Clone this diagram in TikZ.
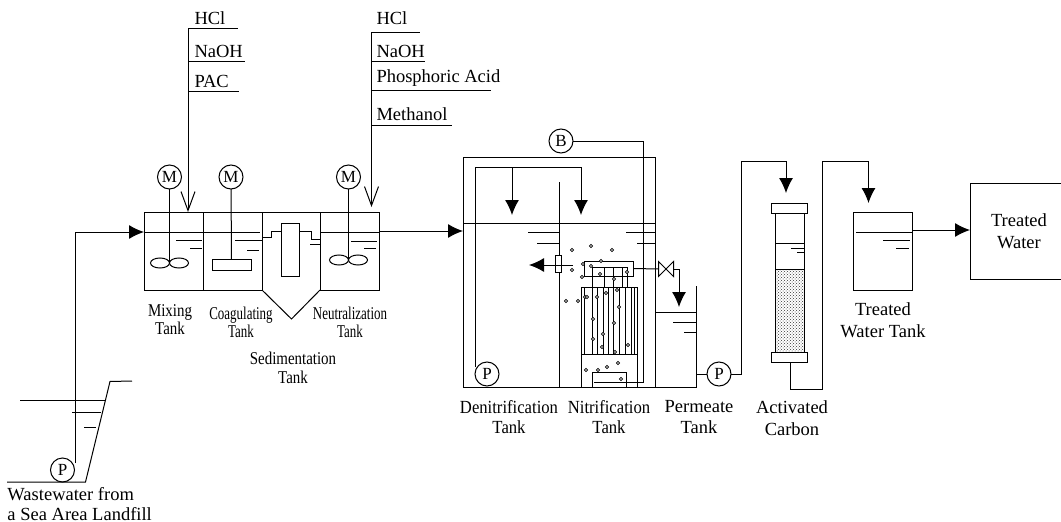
\documentclass[tikz,border=0pt]{standalone}
\usepackage{fontspec}
\setmainfont{Liberation Serif}
\usetikzlibrary{arrows.meta, calc, positioning, shapes.misc, patterns}

\begin{document}
\begin{tikzpicture}[
    x=1pt, y=-1pt,
    font=\fontsize{18.5}{18.5}\selectfont,
    every path/.style={line width=1pt},
    tank/.style={draw, inner sep=0pt, outer sep=0pt, minimum width=59pt, minimum height=78pt},
    capbox/.style={draw, inner sep=0pt, outer sep=0pt, minimum width=36pt, minimum height=10pt},
    unit/.style={draw, circle, inner sep=0pt, outer sep=0pt, minimum size=24pt, font=\fontsize{17}{17}\selectfont},
    tname/.style={inner sep=0pt, align=center},
    slim/.style={tname, font=\fontsize{18}{18}\selectfont\addfontfeature{FakeStretch=0.83}},
    narrow/.style={tname, font=\fontsize{18}{18}\selectfont\addfontfeature{FakeStretch=0.72}},
    lab/.style={tname, font=\fontsize{18.5}{18.5}\selectfont\addfontfeature{FakeStretch=0.9}},
    chem/.style={inner sep=0pt, anchor=west},
    arrow/.style={-{Latex[length=15pt, width=14pt]}},
    feed/.style={-{Straight Barb[length=19pt, width=14pt]}}
]
\useasboundingbox (0,0) rectangle (1061,522);

% Pit and intake
\draw (7,482) -- (85.5,482) -- (110,381.5) -- (132,381);
\draw (20,400) -- (105,400);
\draw (72,412.7) -- (101,412.7);
\draw (84,427) -- (96,427);
\node[unit] (Pin) at (62.5,470) {P};
\node[tname, anchor=north west, align=left] (Lwaste) at (7,487) {Wastewater from\\[1pt]a Sea Area Landfill};

% Pretreatment row
\node[tank] (Tmix) at (173.5,251) {};
\node[tank] (Tcoag) at (232.5,251) {};
\node[tank] (Tneut) at (349.5,251) {};
\draw (Tcoag.north east) -- (Tneut.north west);
\draw (Tcoag.south east) -- (291.5,319) -- (Tneut.south west);
\draw (Tmix.west |- 0,232) -- (260,232);
\draw (320,232) -- (379,232);
\draw (262,237.5) -- (271,237.5) -- (271,231.5) -- (281,231.5);
\draw (299,231.5) -- (311,231.5) -- (311,239) -- (320,239);
\draw (310,244.5) -- (320,244.5);
\node[draw, inner sep=0pt, minimum width=18pt, minimum height=53pt] (Baffle) at (290,249.5) {};

% Motors and stirrers
\node[unit] (Mmix) at (169.5,177) {M};
\node[unit] (Mcoag) at (231,177) {M};
\node[unit] (Mneut) at (348.5,177) {M};
\node[draw, inner sep=0pt, minimum width=39pt, minimum height=11pt] (Paddle) at (231.5,265) {};
\coordinate (Hmix) at (169.5,263);
\coordinate (Hneut) at (348.5,260);
\draw (Mmix) -- (Hmix);
\draw (Mcoag) -- (Paddle);
\draw (Mneut) -- (Hneut);
\foreach \h in {Hmix,Hneut}{
    \draw ($(\h)+(-9.5,0)$) ellipse[x radius=9.5pt, y radius=5pt];
    \draw ($(\h)+(9.5,0)$) ellipse[x radius=9.5pt, y radius=5pt];
}

% Level marks
\draw (176,240.5) -- (202,240.5);
\draw (190,248) -- (202,248);
\draw (235,240.5) -- (262,240.5);
\draw (247,250) -- (259,250);
\draw (351,241) -- (377,241);
\draw (364,248) -- (376,248);

% Feed line and chemicals
\coordinate (Rise) at (75,463);
\draw[arrow] (Rise) -- (75,232) -- (Tmix.west |- 0,232);
\coordinate (Cone) at (188,28);
\coordinate (Ctwo) at (371.5,32);
\draw[feed] (Cone) -- (188,212);
\draw[feed] (Ctwo) -- (371.5,207);
\draw (Cone) -- (238,28);
\draw (188,61) -- (245,61);
\draw (188,91) -- (239,91);
\draw (Ctwo) -- (420,32);
\draw (371.5,61) -- (425,61);
\draw (371.5,90) -- (491,90);
\draw (371.5,125) -- (452,125);
\node[chem] (Aone) at (194,18) {HCl};
\node[chem] (Atwo) at (194,51) {NaOH};
\node[chem] (Athree) at (194,81) {PAC};
\node[chem] (Bone) at (376,18) {HCl};
\node[chem] (Btwo) at (376,51) {NaOH};
\node[chem] (Bthree) at (376,78) {Phosphoric Acid};
\node[chem] (Bfour) at (376,114) {Methanol};

% Bioreactor
\node[draw, inner sep=0pt, outer sep=0pt, minimum width=192pt, minimum height=230pt] (Treact) at (559,272) {};
\draw[arrow] (379,231) -- (Treact.west |- 0,231);
\draw (Treact.west |- 0,223) -- (Treact.east |- 0,223);
\draw (559,182) -- (559,387);
\node[unit] (Pden) at (487,374) {P};
\coordinate (Drop) at (475,367);
\draw (Drop) -- (475,167) -- (581,167);
\draw[arrow] (512,167) -- (512,215);
\draw[arrow] (581,167) -- (581,215);
\draw (528,232) -- (559,232);
\draw (537,243) -- (559,243);
\draw (626,232) -- (655,232);
\draw (637,243) -- (655,243);

% Membrane module
\node[draw, inner sep=0pt, minimum width=49pt, minimum height=15pt] (Header) at (608.5,268.5) {};
\draw (592,267) -- (628,267);
\foreach \x in {592.7,604,613,622,627}{
    \draw (\x,267) -- (\x,287);
}
\draw (581,387) -- (581,287) -- (637,287) -- (637,387);
\draw (581,354) -- (637,354);
\foreach \x in {584,592,597,603,608,613,619,625,631,634}{
    \draw[line width=0.8pt] (\x,287) -- (\x,354);
}
\node[draw, inner sep=0pt, minimum width=34pt, minimum height=15pt] (Diffuser) at (609,379.5) {};
\node[unit] (Blower) at (561,141) {B};
\draw (Blower) -- (643,141) -- (643,382) -- (594,382);

% Bubbles
\foreach \x/\y in {572/250, 591/246, 612/250, 601/261, 583/264, 591/266, 572/270, 582/277, 600/274, 614/279, 627/272,
    617/290, 606/293, 597/297, 585/297, 587/297, 566/301, 578/301, 619/307, 593/319, 614/323, 603/334, 593/339, 602/347, 628/345, 615/352,
    586/370, 598/370, 607/367, 618/363, 621/379}{
    \draw[line width=0.7pt, fill=white] (\x,\y) circle[radius=1.7pt];
}

% Recycle outlet
\node[draw, fill=white, inner sep=0pt, minimum width=6.5pt, minimum height=17pt] (Rec) at (558.5,263.5) {};
\coordinate (Rin) at (573,265);
\draw[arrow] (Rin) -- (529,265);

% Permeate
\node[inner sep=0pt, minimum width=14pt, minimum height=14pt] (Valve) at (666,269) {};
\draw (Valve.north west) -- (Valve.south east) -- (Valve.north east) -- (Valve.south west) -- cycle;
\draw (Header.east) -- (Valve.west);
\draw[arrow] (Valve.east) -- (679,269) -- (679,307);
\draw (696,286) -- (696,387) -- (655,387);
\draw (655,312) -- (696,312);
\draw (673,322) -- (696,322);
\draw (684,332) -- (696,332);
\node[unit] (Pper) at (719,374) {P};
\draw (696,374) -- (Pper);

% Carbon column
\node[capbox] (Ctop) at (789,208) {};
\node[capbox] (Cbot) at (789,357) {};
\node[draw, inner sep=0pt, minimum width=29pt, minimum height=83pt, pattern=crosshatch dots, pattern color=black!80] (Media) at (789.5,310.5) {};
\draw (775,213) -- (775,269);
\draw (804,213) -- (804,269);
\draw (775,243) -- (804,243);
\draw (791,248) -- (804,248);
\draw (797,252) -- (804,252);
\draw[arrow] (Pper) -- (741,374) -- (741,161.5) -- (786,161.5) -- (786,193);

% Treated water
\node[tank] (Ttreat) at (882.5,251) {};
\draw (856,232) -- (912,232);
\draw (883,240.5) -- (910,240.5);
\draw (896,248) -- (909,248);
\draw[arrow] (Cbot.south -| 790,0) -- (790,389) -- (822,389) -- (822,161.5) -- (868.5,161.5) -- (868.5,203);
\draw (1061,183) -- (970,183) -- (970,279) -- (1061,279);
\coordinate (Bbox) at (970,230);
\draw[arrow] (912,230) -- (Bbox);
\node[tname] (Lbox) at (1019,231) {Treated\\[4pt]Water};

% Labels
\node[slim] (Lmix) at (170,320) {Mixing\\Tank};
\node[narrow] (Lcoag) at (241,322) {Coagulating\\Tank};
\node[narrow] (Lneut) at (350,322) {Neutralization\\Tank};
\node[slim] (Lsed) at (293,368) {Sedimentation\\[1pt]Tank};
\node[lab] (Lden) at (509,417) {Denitrification\\[2pt]Tank};
\node[lab] (Lnit) at (609,417) {Nitrification\\[2pt]Tank};
\node[tname] (Lper) at (699,417) {Permeate\\[2pt]Tank};
\node[tname] (Lact) at (792,418) {Activated\\[4pt]Carbon};
\node[tname] (Ltreat) at (883,320) {Treated\\[4pt]Water Tank};

\end{tikzpicture}
\end{document}
